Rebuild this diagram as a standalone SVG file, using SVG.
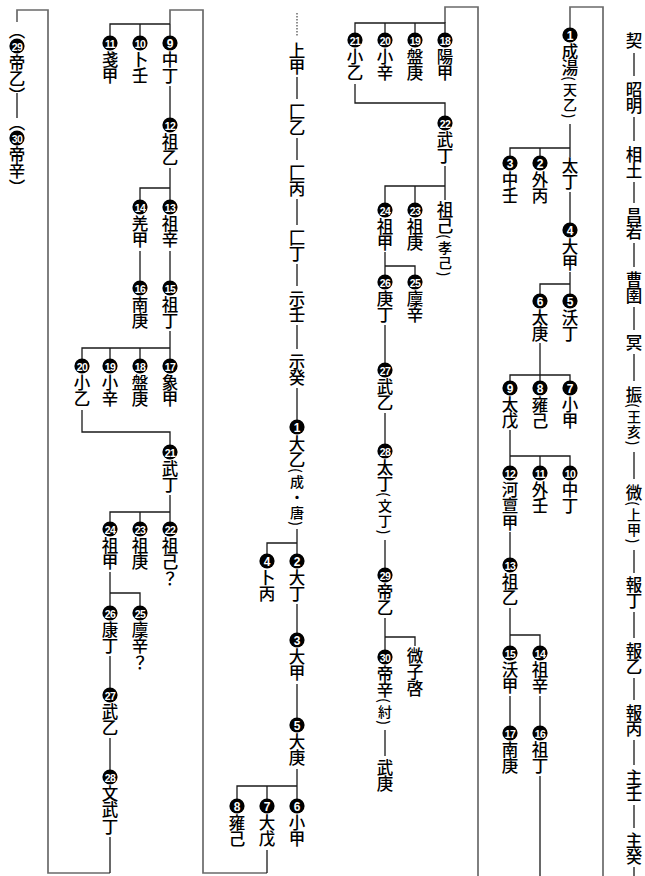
<svg xmlns="http://www.w3.org/2000/svg" width="645" height="876" viewBox="0 0 645 876">
<style>
.t{font-family:"Noto Sans CJK JP","Noto Sans CJK SC",sans-serif;font-size:16.5px;font-weight:500;fill:#000;writing-mode:vertical-rl;}
.s{font-size:14px;letter-spacing:1.5px;}
.c{fill:#000;}
.n{font-family:"Liberation Sans",Arial,sans-serif;font-weight:bold;fill:#fff;font-size:12px;text-anchor:middle;dominant-baseline:central;}
.n2{font-size:10.5px;letter-spacing:-0.5px;}
.ln{stroke:#1a1a1a;stroke-width:1.3;fill:none;}
.fr{stroke:#6a6a6a;stroke-width:1.7;fill:none;}
.dot{stroke:#333;stroke-width:1.1;stroke-dasharray:1.5 1.5;fill:none;}
</style>
<rect width="645" height="876" fill="#fff"/>
<g id="connectors">
<path class="fr" d="M570 28V7H603V876"/>
<path class="fr" d="M445 23V7H478V876"/>
<path class="fr" d="M267 873H203V10H170V24"/>
<path class="fr" d="M110 873H48V10H17V22"/>
<path class="dot" d="M297 13V37"/>
<path class="ln" d="M634 53V76M634 117V141M634 182V203M634 243V267M634 307V330M634 354V381M634 452V479M634 550V573M634 612V638M634 678V700M634 740V765M634 805V828M634 867V876"/>
<path class="ln" d="M570 124V157M510 156V148H570M540 148V156M570 192V223M570 272V294M540 294V284H570M540 343V381M510 381V375H570V381M510 430V466M570 466V456H510M540 456V466M510 532V558M510 608V646M540 646V635H510M510 696V726M540 696V726M540 776V876"/>
<path class="ln" d="M355 33V23H445V33M385 23V33M415 23V33M355 84V103H445V116M445 166V200M385 203V186H445M415 186V203M385 252V275M415 275V266H385M385 325V363M385 413V444M385 540V568M385 618V650M415 646V637H385M385 730V756"/>
<path class="ln" d="M297 77V99M297 138V160M297 199V225M297 264V286M297 325V349M297 388V420M297 529V554M267 554V543H297M297 604V633M297 684V718M297 769V799M237 799V786H297M267 786V799M267 850V873"/>
<path class="ln" d="M170 24V36M110 36V24H170M140 24V36M170 86V118M170 168V200M140 200V188H170M170 251V281M140 251V281M170 331V359M82 359V348H170M110 348V359M140 348V359M82 410V432H170V445M170 495V522M110 522V512H170M140 512V522M110 572V606M140 606V593H110M110 656V688M110 738V770M110 837V873"/>
<path class="ln" d="M17 93V118"/>
</g>
<g id="col1">
<g id="n-xie"><text class="t" x="634" y="32">契</text></g>
<g id="n-zhaoming"><text class="t" x="634" y="81">昭明</text></g>
<g id="n-xiangtu"><text class="t" x="634" y="146">相土</text></g>
<g id="n-changruo"><text class="t" x="634" y="207">昌若</text></g>
<g id="n-caoyu"><text class="t" x="634" y="271">曹圉</text></g>
<g id="n-ming"><text class="t" x="634" y="334">冥</text></g>
<g id="n-zhen"><text class="t" x="634" y="386">振<tspan class="s">(王亥)</tspan></text></g>
<g id="n-wei"><text class="t" x="634" y="484">微<tspan class="s">(上甲)</tspan></text></g>
<g id="n-baoding"><text class="t" x="634" y="576">報丁</text></g>
<g id="n-baoyi"><text class="t" x="634" y="642">報乙</text></g>
<g id="n-baobing"><text class="t" x="634" y="704">報丙</text></g>
<g id="n-zhuren"><text class="t" x="634" y="769">主壬</text></g>
<g id="n-zhugui"><text class="t" x="634" y="832">主癸</text></g>
</g>
<g id="col2">
<g id="a1"><circle class="c" cx="570" cy="35" r="7.6"/><text class="n" x="570" y="35.5">1</text><text class="t" x="570" y="43">成湯<tspan class="s">(天乙)</tspan></text></g>
<g id="a-taiding"><text class="t" x="570" y="157">太丁</text></g>
<g id="a2"><circle class="c" cx="540" cy="163" r="7.6"/><text class="n" x="540" y="163.5">2</text><text class="t" x="540" y="171">外丙</text></g>
<g id="a3"><circle class="c" cx="510" cy="163" r="7.6"/><text class="n" x="510" y="163.5">3</text><text class="t" x="510" y="171">中壬</text></g>
<g id="a4"><circle class="c" cx="570" cy="230" r="7.6"/><text class="n" x="570" y="230.5">4</text><text class="t" x="570" y="238">大甲</text></g>
<g id="a5"><circle class="c" cx="570" cy="301" r="7.6"/><text class="n" x="570" y="301.5">5</text><text class="t" x="570" y="309">沃丁</text></g>
<g id="a6"><circle class="c" cx="540" cy="301" r="7.6"/><text class="n" x="540" y="301.5">6</text><text class="t" x="540" y="309">太庚</text></g>
<g id="a7"><circle class="c" cx="570" cy="388" r="7.6"/><text class="n" x="570" y="388.5">7</text><text class="t" x="570" y="396">小甲</text></g>
<g id="a8"><circle class="c" cx="540" cy="388" r="7.6"/><text class="n" x="540" y="388.5">8</text><text class="t" x="540" y="396">雍己</text></g>
<g id="a9"><circle class="c" cx="510" cy="388" r="7.6"/><text class="n" x="510" y="388.5">9</text><text class="t" x="510" y="396">太戊</text></g>
<g id="a10"><circle class="c" cx="570" cy="473" r="7.6"/><text class="n n2" x="570" y="473.5">10</text><text class="t" x="570" y="481">中丁</text></g>
<g id="a11"><circle class="c" cx="540" cy="473" r="7.6"/><text class="n n2" x="540" y="473.5">11</text><text class="t" x="540" y="481">外壬</text></g>
<g id="a12"><circle class="c" cx="510" cy="473" r="7.6"/><text class="n n2" x="510" y="473.5">12</text><text class="t" x="510" y="481">河亶甲</text></g>
<g id="a13"><circle class="c" cx="510" cy="565" r="7.6"/><text class="n n2" x="510" y="565.5">13</text><text class="t" x="510" y="573">祖乙</text></g>
<g id="a14"><circle class="c" cx="540" cy="653" r="7.6"/><text class="n n2" x="540" y="653.5">14</text><text class="t" x="540" y="661">祖辛</text></g>
<g id="a15"><circle class="c" cx="510" cy="653" r="7.6"/><text class="n n2" x="510" y="653.5">15</text><text class="t" x="510" y="661">沃甲</text></g>
<g id="a16"><circle class="c" cx="540" cy="733" r="7.6"/><text class="n n2" x="540" y="733.5">16</text><text class="t" x="540" y="741">祖丁</text></g>
<g id="a17"><circle class="c" cx="510" cy="733" r="7.6"/><text class="n n2" x="510" y="733.5">17</text><text class="t" x="510" y="741">南庚</text></g>
</g>
<g id="col3">
<g id="a18"><circle class="c" cx="445" cy="40" r="7.6"/><text class="n n2" x="445" y="40.5">18</text><text class="t" x="445" y="48">陽甲</text></g>
<g id="a19"><circle class="c" cx="415" cy="40" r="7.6"/><text class="n n2" x="415" y="40.5">19</text><text class="t" x="415" y="48">盤庚</text></g>
<g id="a20"><circle class="c" cx="385" cy="40" r="7.6"/><text class="n n2" x="385" y="40.5">20</text><text class="t" x="385" y="48">小辛</text></g>
<g id="a21"><circle class="c" cx="355" cy="40" r="7.6"/><text class="n n2" x="355" y="40.5">21</text><text class="t" x="355" y="48">小乙</text></g>
<g id="a22"><circle class="c" cx="445" cy="123" r="7.6"/><text class="n n2" x="445" y="123.5">22</text><text class="t" x="445" y="131">武丁</text></g>
<g id="a-zuji"><text class="t" x="445" y="201">祖己<tspan class="s">(孝己)</tspan></text></g>
<g id="a23"><circle class="c" cx="415" cy="210" r="7.6"/><text class="n n2" x="415" y="210.5">23</text><text class="t" x="415" y="218">祖庚</text></g>
<g id="a24"><circle class="c" cx="385" cy="210" r="7.6"/><text class="n n2" x="385" y="210.5">24</text><text class="t" x="385" y="218">祖甲</text></g>
<g id="a25"><circle class="c" cx="415" cy="282" r="7.6"/><text class="n n2" x="415" y="282.5">25</text><text class="t" x="415" y="290">廩辛</text></g>
<g id="a26"><circle class="c" cx="385" cy="282" r="7.6"/><text class="n n2" x="385" y="282.5">26</text><text class="t" x="385" y="290">庚丁</text></g>
<g id="a27"><circle class="c" cx="385" cy="370" r="7.6"/><text class="n n2" x="385" y="370.5">27</text><text class="t" x="385" y="378">武乙</text></g>
<g id="a28"><circle class="c" cx="385" cy="451" r="7.6"/><text class="n n2" x="385" y="451.5">28</text><text class="t" x="385" y="459">太丁<tspan class="s">(文丁)</tspan></text></g>
<g id="a29"><circle class="c" cx="385" cy="575" r="7.6"/><text class="n n2" x="385" y="575.5">29</text><text class="t" x="385" y="583">帝乙</text></g>
<g id="a30"><circle class="c" cx="385" cy="657" r="7.6"/><text class="n n2" x="385" y="657.5">30</text><text class="t" x="385" y="665">帝辛<tspan class="s">(紂)</tspan></text></g>
<g id="a-weiziqi"><text class="t" x="415" y="647">微子啓</text></g>
<g id="a-wugeng"><text class="t" x="385" y="759">武庚</text></g>
</g>
<g id="col4">
<g id="b-shangjia"><text class="t" x="297" y="42">上甲</text></g>
<g id="b-baoyi"><text class="t" x="297" y="103">匚乙</text></g>
<g id="b-baobing"><text class="t" x="297" y="164">匚丙</text></g>
<g id="b-baoding"><text class="t" x="297" y="229">匚丁</text></g>
<g id="b-shiren"><text class="t" x="297" y="290">示壬</text></g>
<g id="b-shigui"><text class="t" x="297" y="353">示癸</text></g>
<g id="b1"><circle class="c" cx="297" cy="427" r="7.6"/><text class="n" x="297" y="427.5">1</text><text class="t" x="297" y="435">大乙<tspan class="s">(成・唐)</tspan></text></g>
<g id="b2"><circle class="c" cx="297" cy="561" r="7.6"/><text class="n" x="297" y="561.5">2</text><text class="t" x="297" y="569">大丁</text></g>
<g id="b4"><circle class="c" cx="267" cy="561" r="7.6"/><text class="n" x="267" y="561.5">4</text><text class="t" x="267" y="569">卜丙</text></g>
<g id="b3"><circle class="c" cx="297" cy="640" r="7.6"/><text class="n" x="297" y="640.5">3</text><text class="t" x="297" y="648">大甲</text></g>
<g id="b5"><circle class="c" cx="297" cy="725" r="7.6"/><text class="n" x="297" y="725.5">5</text><text class="t" x="297" y="733">大庚</text></g>
<g id="b6"><circle class="c" cx="297" cy="806" r="7.6"/><text class="n" x="297" y="806.5">6</text><text class="t" x="297" y="814">小甲</text></g>
<g id="b7"><circle class="c" cx="267" cy="806" r="7.6"/><text class="n" x="267" y="806.5">7</text><text class="t" x="267" y="814">大戊</text></g>
<g id="b8"><circle class="c" cx="237" cy="806" r="7.6"/><text class="n" x="237" y="806.5">8</text><text class="t" x="237" y="814">雍己</text></g>
</g>
<g id="col5">
<g id="b9"><circle class="c" cx="170" cy="43" r="7.6"/><text class="n" x="170" y="43.5">9</text><text class="t" x="170" y="51">中丁</text></g>
<g id="b10"><circle class="c" cx="140" cy="43" r="7.6"/><text class="n n2" x="140" y="43.5">10</text><text class="t" x="140" y="51">卜壬</text></g>
<g id="b11"><circle class="c" cx="110" cy="43" r="7.6"/><text class="n n2" x="110" y="43.5">11</text><text class="t" x="110" y="51">戔甲</text></g>
<g id="b12"><circle class="c" cx="170" cy="125" r="7.6"/><text class="n n2" x="170" y="125.5">12</text><text class="t" x="170" y="133">祖乙</text></g>
<g id="b13"><circle class="c" cx="170" cy="207" r="7.6"/><text class="n n2" x="170" y="207.5">13</text><text class="t" x="170" y="215">祖辛</text></g>
<g id="b14"><circle class="c" cx="140" cy="207" r="7.6"/><text class="n n2" x="140" y="207.5">14</text><text class="t" x="140" y="215">羌甲</text></g>
<g id="b15"><circle class="c" cx="170" cy="288" r="7.6"/><text class="n n2" x="170" y="288.5">15</text><text class="t" x="170" y="296">祖丁</text></g>
<g id="b16"><circle class="c" cx="140" cy="288" r="7.6"/><text class="n n2" x="140" y="288.5">16</text><text class="t" x="140" y="296">南庚</text></g>
<g id="b17"><circle class="c" cx="170" cy="366" r="7.6"/><text class="n n2" x="170" y="366.5">17</text><text class="t" x="170" y="374">象甲</text></g>
<g id="b18"><circle class="c" cx="140" cy="366" r="7.6"/><text class="n n2" x="140" y="366.5">18</text><text class="t" x="140" y="374">盤庚</text></g>
<g id="b19"><circle class="c" cx="110" cy="366" r="7.6"/><text class="n n2" x="110" y="366.5">19</text><text class="t" x="110" y="374">小辛</text></g>
<g id="b20"><circle class="c" cx="82" cy="366" r="7.6"/><text class="n n2" x="82" y="366.5">20</text><text class="t" x="82" y="374">小乙</text></g>
<g id="b21"><circle class="c" cx="170" cy="452" r="7.6"/><text class="n n2" x="170" y="452.5">21</text><text class="t" x="170" y="460">武丁</text></g>
<g id="b22"><circle class="c" cx="170" cy="529" r="7.6"/><text class="n n2" x="170" y="529.5">22</text><text class="t" x="170" y="537">祖己？</text></g>
<g id="b23"><circle class="c" cx="140" cy="529" r="7.6"/><text class="n n2" x="140" y="529.5">23</text><text class="t" x="140" y="537">祖庚</text></g>
<g id="b24"><circle class="c" cx="110" cy="529" r="7.6"/><text class="n n2" x="110" y="529.5">24</text><text class="t" x="110" y="537">祖甲</text></g>
<g id="b25"><circle class="c" cx="140" cy="613" r="7.6"/><text class="n n2" x="140" y="613.5">25</text><text class="t" x="140" y="621">廩辛？</text></g>
<g id="b26"><circle class="c" cx="110" cy="613" r="7.6"/><text class="n n2" x="110" y="613.5">26</text><text class="t" x="110" y="621">康丁</text></g>
<g id="b27"><circle class="c" cx="110" cy="695" r="7.6"/><text class="n n2" x="110" y="695.5">27</text><text class="t" x="110" y="703">武乙</text></g>
<g id="b28"><circle class="c" cx="110" cy="777" r="7.6"/><text class="n n2" x="110" y="777.5">28</text><text class="t" x="110" y="785">文武丁</text></g>
</g>
<g id="col6">
<g id="b29"><text class="t" x="17" y="22">（</text><circle class="c" cx="17" cy="46" r="7.6"/><text class="n n2" x="17" y="46.5">29</text><text class="t" x="17" y="54">帝乙）</text></g>
<g id="b30"><text class="t" x="17" y="114">（</text><circle class="c" cx="17" cy="138" r="7.6"/><text class="n n2" x="17" y="138.5">30</text><text class="t" x="17" y="146">帝辛）</text></g>
</g>
</svg>
